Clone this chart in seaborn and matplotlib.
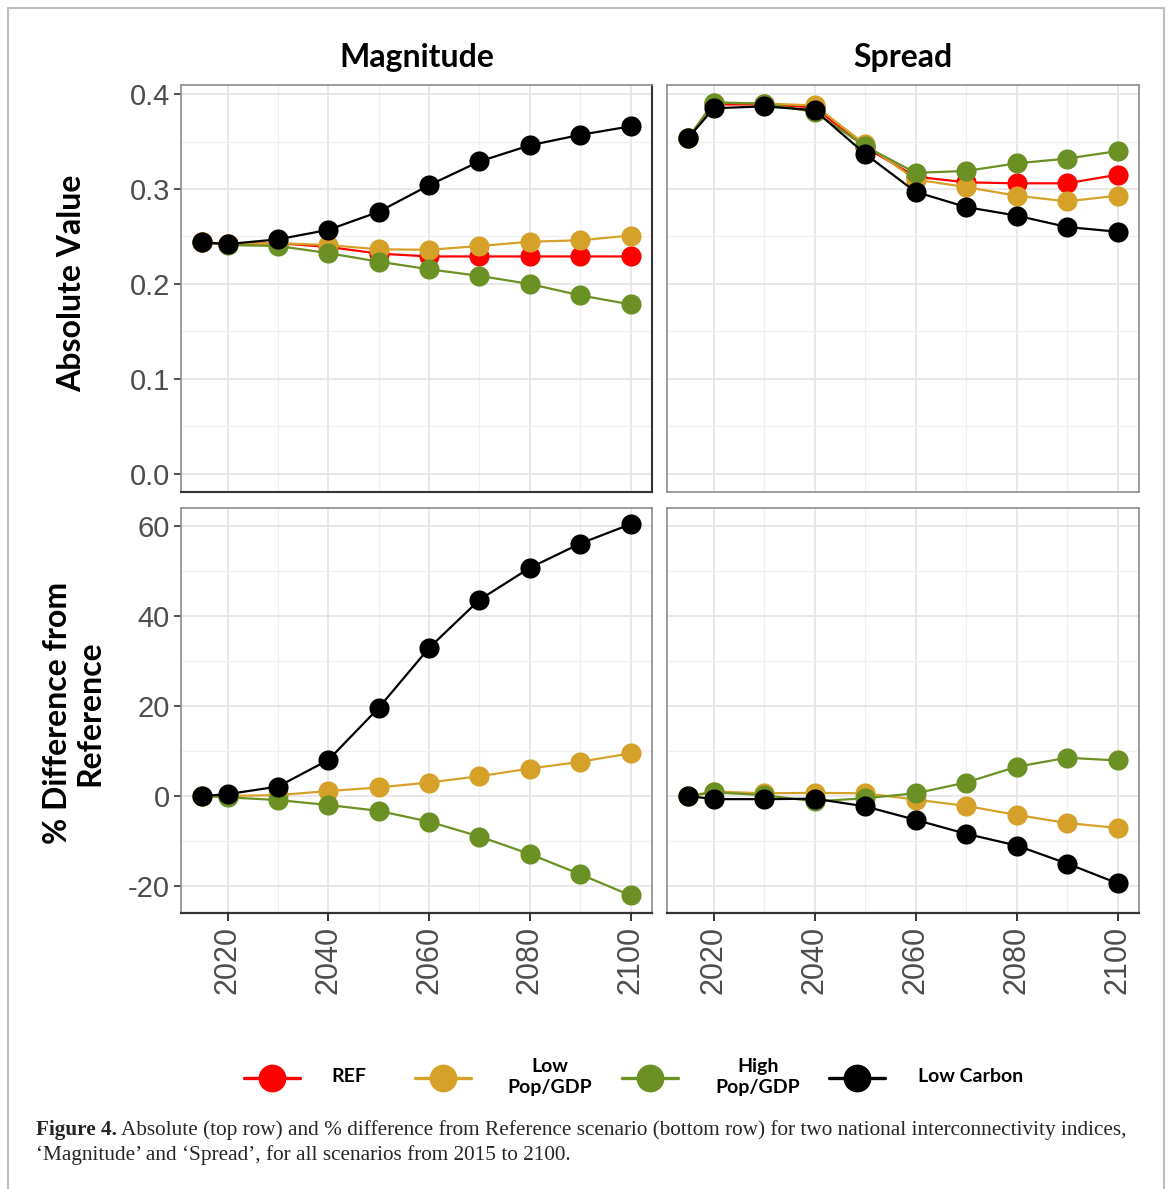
import numpy as np
import pandas as pd
import matplotlib
matplotlib.use("Agg")
import matplotlib.pyplot as plt
from matplotlib.lines import Line2D
import seaborn as sns

# ---------------- data ----------------
years = [2015, 2020, 2030, 2040, 2050, 2060, 2070, 2080, 2090, 2100]
scenarios = ["REF", "Low Pop/GDP", "High Pop/GDP", "Low Carbon"]
legend_labels = ["REF", "Low\nPop/GDP", "High\nPop/GDP", "Low Carbon"]
colors = ["#FF0000", "#D6A128", "#6B9023", "#000000"]

# Magnitude - absolute value
mag_ref = [0.244, 0.242, 0.243, 0.239, 0.232, 0.229, 0.229, 0.229, 0.229, 0.229]
mag_low = [0.244, 0.242, 0.243, 0.241, 0.2365, 0.236, 0.240, 0.2445, 0.246, 0.251]
mag_high = [0.244, 0.241, 0.240, 0.2325, 0.2235, 0.2155, 0.2085, 0.200, 0.188, 0.1785]
mag_lc = [0.244, 0.242, 0.247, 0.257, 0.276, 0.304, 0.329, 0.346, 0.357, 0.366]

# Spread - absolute value
spr_ref = [0.354, 0.389, 0.389, 0.386, 0.344, 0.313, 0.307, 0.306, 0.306, 0.315]
spr_low = [0.354, 0.391, 0.390, 0.388, 0.347, 0.310, 0.302, 0.293, 0.287, 0.293]
spr_high = [0.354, 0.391, 0.390, 0.381, 0.345, 0.317, 0.319, 0.327, 0.332, 0.340]
spr_lc = [0.354, 0.385, 0.387, 0.383, 0.337, 0.297, 0.281, 0.272, 0.260, 0.255]

# Magnitude - % difference from reference (REF itself is the baseline, not drawn)
pm_low = [0, 0, 0.2, 1.1, 1.9, 3.0, 4.4, 6.1, 7.6, 9.5]
pm_high = [0, -0.3, -0.9, -2.0, -3.3, -5.7, -9.0, -12.9, -17.4, -22.1]
pm_lc = [0, 0.4, 2.1, 8.0, 19.6, 32.9, 43.6, 50.7, 56.1, 60.4]

# Spread - % difference from reference
ps_low = [0, 1.0, 0.6, 0.7, 0.6, -0.8, -2.2, -4.2, -6.0, -7.1]
ps_high = [0, 0.8, 0.2, -1.2, -0.5, 0.6, 3.0, 6.5, 8.5, 7.9]
ps_lc = [0, -0.7, -0.7, -0.6, -2.3, -5.3, -8.4, -11.0, -15.0, -19.4]

col_titles = ["Magnitude", "Spread"]
row_titles = ["Absolute Value", "% Difference from\nReference"]
x_ticks = [2020, 2040, 2060, 2080, 2100]
top_yticks = [0.0, 0.1, 0.2, 0.3, 0.4]
top_yticklabels = ["0.0", "0.1", "0.2", "0.3", "0.4"]
bot_yticks = [-20, 0, 20, 40, 60]


def long_df(names, series):
    rows = []
    for name, vals in zip(names, series):
        for y, v in zip(years, vals):
            rows.append({"year": y, "value": v, "scenario": name})
    return pd.DataFrame(rows)


panels = [
    [long_df(scenarios, [mag_ref, mag_low, mag_high, mag_lc]),
     long_df(scenarios, [spr_ref, spr_low, spr_high, spr_lc])],
    [long_df(scenarios[1:], [pm_low, pm_high, pm_lc]),
     long_df(scenarios[1:], [ps_low, ps_high, ps_lc])],
]

# ---------------- figure ----------------
sns.set_theme(style="white")
plt.rcParams["font.family"] = ["Liberation Sans", "DejaVu Sans"]
plt.rcParams["axes.unicode_minus"] = False

W, H = 1169, 1189
fig = plt.figure(figsize=(W / 100, H / 100), dpi=100)


def frac_box(x0, y0, x1, y1):
    return [x0 / W, 1 - y1 / H, (x1 - x0) / W, (y1 - y0) / H]


def fx(x):
    return x / W


def fy(y):
    return 1 - y / H


boxes = [
    [frac_box(181, 85, 652, 492), frac_box(667, 85, 1139, 492)],
    [frac_box(181, 508, 652, 913), frac_box(667, 508, 1139, 913)],
]
ylims = [(-0.019, 0.4095), (-26, 64)]
palette = dict(zip(scenarios, colors))

for r in range(2):
    for c in range(2):
        ax = fig.add_axes(boxes[r][c])
        ax.set_facecolor("white")
        df = panels[r][c]
        order = [s for s in scenarios if s in set(df["scenario"])]
        sns.lineplot(
            data=df, x="year", y="value", hue="scenario",
            hue_order=order, palette=palette, marker="o", markersize=14.5,
            markeredgewidth=0, linewidth=1.6, legend=False, ax=ax, zorder=3,
        )
        ax.set_xlim(2010.75, 2104.25)
        ax.set_ylim(*ylims[r])
        ax.set_xticks(x_ticks)
        ax.set_xticks([2030, 2050, 2070, 2090], minor=True)
        if r == 0:
            ax.set_yticks(top_yticks)
            ax.set_yticklabels(top_yticklabels)
            ax.set_yticks([0.05, 0.15, 0.25, 0.35], minor=True)
        else:
            ax.set_yticks(bot_yticks)
            ax.set_yticks([-10, 10, 30, 50], minor=True)
        ax.grid(True, which="major", color="#E6E6E6", linewidth=1.3, zorder=0)
        ax.grid(True, which="minor", color="#F0F0F0", linewidth=0.9, zorder=0)
        ax.set_axisbelow(True)
        ax.set_xlabel("")
        ax.set_ylabel("")
        for s in ax.spines.values():
            s.set_color("#8C8C8C")
            s.set_linewidth(1.2)
        if r == 1:
            ax.spines["bottom"].set_color("#333333")
            ax.spines["bottom"].set_linewidth(1.6)
        if r == 0 and c == 0:
            ax.spines["bottom"].set_color("#333333")
            ax.spines["right"].set_color("#333333")
            ax.spines["bottom"].set_linewidth(1.5)
            ax.spines["right"].set_linewidth(1.5)
        ax.tick_params(axis="both", which="minor", length=0)
        ax.tick_params(axis="y", which="major", length=5, width=1.2, color="#333333",
                       labelsize=21, labelcolor="#4D4D4D", pad=3, left=(c == 0), labelleft=(c == 0))
        ax.tick_params(axis="x", which="major", length=6, width=1.4, color="#333333",
                       labelsize=22, labelcolor="#4D4D4D", pad=3, bottom=(r == 1), labelbottom=(r == 1))
        if r == 1:
            for lab in ax.get_xticklabels():
                lab.set_rotation(90)
        if r == 0:
            ax.set_title(col_titles[c], fontsize=23, fontweight="bold",
                         family=["Lato", "DejaVu Sans"], color="black", pad=13)

# row labels
fig.text(fx(72), fy(283), row_titles[0], rotation=90, ha="center", va="center",
         fontsize=23, fontweight="bold", family=["Lato", "DejaVu Sans"], color="black")
fig.text(fx(74), fy(713), row_titles[1], rotation=90, ha="center", va="center",
         fontsize=23, fontweight="bold", family=["Lato", "DejaVu Sans"], color="black",
         multialignment="center", linespacing=1.15)

# legend (drawn manually to reproduce the uneven spacing of the original)
handle_cx = [272, 443, 650, 857]
text_cx = [349, 550, 758, 971]
leg_y = 1078
for hx, tx, col, lab in zip(handle_cx, text_cx, colors, legend_labels):
    fig.add_artist(Line2D([fx(hx - 28), fx(hx + 28)], [fy(leg_y), fy(leg_y)],
                          transform=fig.transFigure, color=col, lw=2.4))
    fig.add_artist(Line2D([fx(hx)], [fy(leg_y)], transform=fig.transFigure, color=col,
                          marker="o", markersize=20, markeredgewidth=0, lw=0))
    fig.text(fx(tx), fy(leg_y - 1), lab, ha="center", va="center", fontsize=14,
             fontweight="bold", family=["Lato", "DejaVu Sans"], color="black",
             multialignment="center", linespacing=1.25)

# caption
cap_size = 15.3
cap_y1 = fy(1130)
t1 = fig.text(fx(36), cap_y1, "Figure 4.", ha="left", va="center", fontsize=cap_size,
              fontweight="bold", family=["Liberation Serif", "DejaVu Serif"])
fig.canvas.draw()
bb = t1.get_window_extent()
fig.text((bb.x1 + 4) / W, cap_y1,
         "Absolute (top row) and % difference from Reference scenario (bottom row) for two national interconnectivity indices,",
         ha="left", va="center", fontsize=cap_size, family=["Liberation Serif", "DejaVu Serif"])
fig.text(fx(36), fy(1155), "\u2018Magnitude\u2019 and \u2018Spread\u2019, for all scenarios from 2015 to 2100.",
         ha="left", va="center", fontsize=cap_size, family=["Liberation Serif", "DejaVu Serif"])

# outer frame (left, top, right edges of the page box)
frame_kw = dict(transform=fig.transFigure, color="#BDBDBD", lw=1.5)
fig.add_artist(Line2D([fx(8), fx(8)], [fy(8), 0], **frame_kw))
fig.add_artist(Line2D([fx(8), fx(1164)], [fy(8), fy(8)], **frame_kw))
fig.add_artist(Line2D([fx(1164), fx(1164)], [fy(8), 0], **frame_kw))

fig.savefig("out.png", dpi=100, facecolor="white")
